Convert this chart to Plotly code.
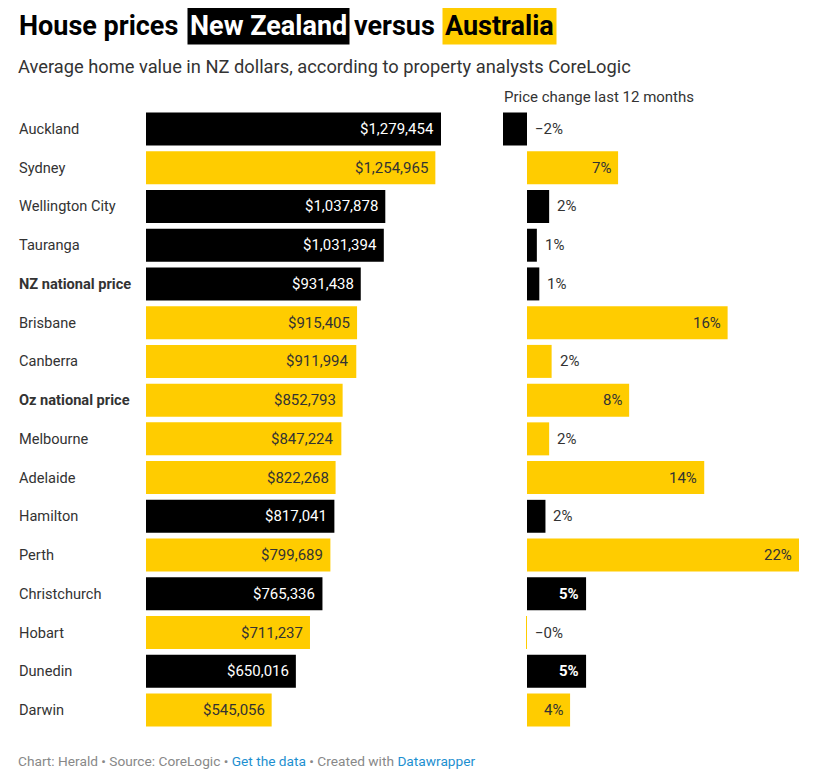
import plotly.graph_objects as go

# page body has an 8px margin; figure coordinates are reference pixels minus 8
OFF = 8
W, H = 817 - OFF, 776 - OFF


def px(x):
    return (x - OFF) / W


def py(y):
    return 1 - (y - OFF) / H


cities = ["Auckland", "Sydney", "Wellington City", "Tauranga", "NZ national price",
          "Brisbane", "Canberra", "Oz national price", "Melbourne", "Adelaide",
          "Hamilton", "Perth", "Christchurch", "Hobart", "Dunedin", "Darwin"]
country = ["NZ", "AU", "NZ", "NZ", "NZ", "AU", "AU", "AU", "AU", "AU",
           "NZ", "AU", "NZ", "AU", "NZ", "AU"]
prices = [1279454, 1254965, 1037878, 1031394, 931438, 915405, 911994, 852793,
          847224, 822268, 817041, 799689, 765336, 711237, 650016, 545056]
change = [-1.95, 7.4, 1.8, 0.8, 1.0, 16.3, 2.0, 8.3, 1.8, 14.4,
          1.5, 22.1, 4.8, -0.08, 4.8, 3.5]
bold_rows = ["NZ national price", "Oz national price"]

BLACK = "#000000"
YELLOW = "#ffcc00"
TXT = "#333333"
FONT = "Roboto"

colors = [BLACK if c == "NZ" else YELLOW for c in country]

fig = go.Figure()
fig.add_trace(go.Bar(x=prices, y=cities, orientation="h", marker=dict(color=colors, line=dict(width=0)),
                     xaxis="x", yaxis="y", hoverinfo="skip"))
fig.add_trace(go.Bar(x=change, y=cities, orientation="h", marker=dict(color=colors, line=dict(width=0)),
                     xaxis="x2", yaxis="y", hoverinfo="skip"))

ann = []
# category labels
for c in cities:
    txt = f"<b>{c}</b>" if c in bold_rows else c
    ann.append(dict(x=px(17), xref="paper", y=c, yref="y", text=txt, showarrow=False,
                    xanchor="left", yanchor="middle", font=dict(family=FONT, size=14.6, color=TXT)))
# price labels
for c, p, k in zip(cities, prices, country):
    ann.append(dict(x=p, xref="x", y=c, yref="y", text=f"${p:,}", showarrow=False,
                    xanchor="right", yanchor="middle", xshift=-5,
                    font=dict(family=FONT, size=15, color="white" if k == "NZ" else TXT)))
# change labels
for c, v, k in zip(cities, change, country):
    r = round(v)
    s = ("\u2212" if v < 0 else "") + f"{abs(r)}%"
    if abs(v) > 3:
        ann.append(dict(x=v, xref="x2", y=c, yref="y", text=f"<b>{s}</b>" if k == "NZ" else s,
                        showarrow=False, xanchor="right", yanchor="middle", xshift=-5,
                        font=dict(family=FONT, size=15, color="white" if k == "NZ" else TXT)))
    else:
        ann.append(dict(x=max(v, 0), xref="x2", y=c, yref="y", text=s, showarrow=False,
                        xanchor="left", yanchor="middle", xshift=6,
                        font=dict(family=FONT, size=15, color=TXT)))

# title pieces
ty = py(25.5)
tfont = dict(family=FONT, size=27, color="#000000")
ann.append(dict(x=px(17), xref="paper", y=ty, yref="paper", text="<b>House prices</b>", showarrow=False,
                xanchor="left", yanchor="middle", font=tfont))
ann.append(dict(x=px(187), xref="paper", y=ty, yref="paper", text="<b>New Zealand</b>", showarrow=False,
                xanchor="left", yanchor="middle", font=dict(family=FONT, size=27, color="white"),
                bgcolor=BLACK, borderpad=2))
ann.append(dict(x=px(352), xref="paper", y=ty, yref="paper", text="<b>versus</b>", showarrow=False,
                xanchor="left", yanchor="middle", font=tfont))
ann.append(dict(x=px(442), xref="paper", y=ty, yref="paper", text="<b>Australia</b>", showarrow=False,
                xanchor="left", yanchor="middle", font=tfont, bgcolor=YELLOW, borderpad=2))
# subtitle
ann.append(dict(x=px(16), xref="paper", y=py(66), yref="paper",
                text="Average home value in NZ dollars, according to property analysts CoreLogic",
                showarrow=False, xanchor="left", yanchor="middle", font=dict(family=FONT, size=18.3, color=TXT)))
# column header
ann.append(dict(x=px(502), xref="paper", y=py(97), yref="paper", text="Price change last 12 months",
                showarrow=False, xanchor="left", yanchor="middle", font=dict(family=FONT, size=15, color=TXT)))
# footer
ann.append(dict(x=px(16), xref="paper", y=py(761), yref="paper",
                text=("Chart: Herald \u2022 Source: CoreLogic \u2022 <span style='color:#1d8fd0'>Get the data</span>"
                      " \u2022 Created with <span style='color:#1d8fd0'>Datawrapper</span>"),
                showarrow=False, xanchor="left", yanchor="middle", font=dict(family=FONT, size=13.7, color="#888888")))

row = (710 - 129) / 15
top = 129 - row / 2
bot = 710 + row / 2

fig.update_layout(
    width=W, height=H, margin=dict(l=0, r=0, t=0, b=0),
    paper_bgcolor="white", plot_bgcolor="white", showlegend=False,
    bargap=1 - 33 / row,
    xaxis=dict(domain=[px(146), px(441)], range=[0, max(prices)], visible=False, fixedrange=True),
    xaxis2=dict(domain=[px(503), px(799)], range=[min(change), max(change)], visible=False, fixedrange=True),
    yaxis=dict(domain=[py(bot), py(top)], autorange="reversed", visible=False,
               categoryorder="array", categoryarray=cities),
    annotations=ann,
)

fig.write_html("out.html")
